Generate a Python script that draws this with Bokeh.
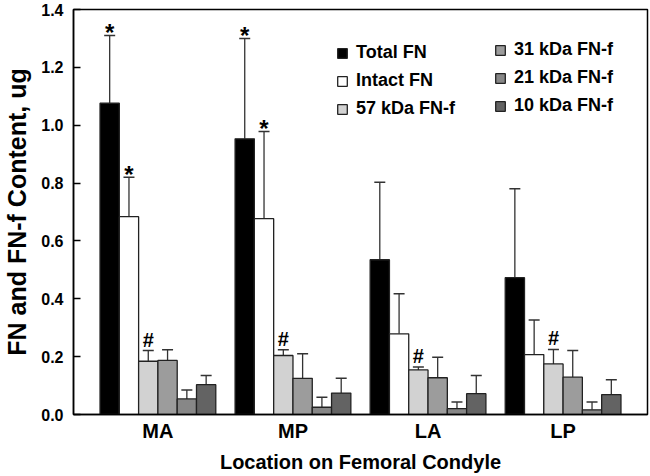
from bokeh.plotting import figure
from bokeh.models import (ColumnDataSource, Whisker, TeeHead, Legend, LegendItem,
                          FixedTicker, Range1d, Title)
from bokeh.core.properties import value
from bokeh.embed import file_html
from bokeh.resources import INLINE

# ---- data ----
locations = ["MA", "MP", "LA", "LP"]
series_names = ["Total FN", "Intact FN", "57 kDa FN-f", "31 kDa FN-f", "21 kDa FN-f", "10 kDa FN-f"]

total_fn = [1.076, 0.953, 0.535, 0.473]
total_sd = [0.234, 0.347, 0.268, 0.307]
intact_fn = [0.684, 0.677, 0.279, 0.207]
intact_sd = [0.136, 0.301, 0.138, 0.120]
k57 = [0.184, 0.204, 0.154, 0.175]
k57_sd = [0.037, 0.020, 0.010, 0.050]
k31 = [0.187, 0.125, 0.127, 0.129]
k31_sd = [0.037, 0.085, 0.071, 0.092]
k21 = [0.054, 0.025, 0.020, 0.016]
k21_sd = [0.031, 0.035, 0.023, 0.027]
k10 = [0.103, 0.074, 0.072, 0.069]
k10_sd = [0.032, 0.051, 0.063, 0.051]

total_marks = ["*", "*", "", ""]
intact_marks = ["*", "*", "", ""]
k57_marks = ["#", "#", "#", "#"]
no_marks = ["", "", "", ""]

y_ticks = [0.0, 0.2, 0.4, 0.6, 0.8, 1.0, 1.2, 1.4]
x_title = "Location on Femoral Condyle"
y_title = "FN and FN-f Content, ug"

means = [total_fn, intact_fn, k57, k31, k21, k10]
sds = [total_sd, intact_sd, k57_sd, k31_sd, k21_sd, k10_sd]
marks = [total_marks, intact_marks, k57_marks, no_marks, no_marks, no_marks]
colors = ["#000000", "#ffffff", "#d2d2d2", "#9c9c9c", "#878787", "#636363"]

FONT = "Liberation Sans"
BAR_W = 1.0 / 7.0

p = figure(width=650, height=476, output_backend="svg", toolbar_location=None,
           x_range=Range1d(-0.625, 3.625), y_range=Range1d(0, 1.4),
           min_border_left=69, min_border_right=3, min_border_top=9, min_border_bottom=62)
p.xgrid.visible = False
p.ygrid.visible = False
p.outline_line_color = "black"
p.outline_line_width = 1.5
p.background_fill_color = "white"

renderers = []
for i, (m, s, mk, c) in enumerate(zip(means, sds, marks, colors)):
    off = (i - 2.5) * BAR_W
    xs = [g + off for g in range(len(locations))]
    up = [a + b for a, b in zip(m, s)]
    src = ColumnDataSource(dict(x=xs, top=m, upper=up, mark=mk))
    r = p.vbar(x="x", top="top", width=BAR_W, source=src, fill_color=c,
               line_color="#222222", line_width=1.3)
    renderers.append(r)
    w = Whisker(source=src, base="x", lower="top", upper="upper",
                line_color="#333333", line_width=1.3,
                upper_head=TeeHead(size=11, line_color="#333333", line_width=1.5),
                lower_head=None)
    p.add_layout(w)
    if any(mk):
        is_star = mk[0] == "*"
        p.text(x="x", y="upper", text="mark", source=src,
               text_font=value(FONT), text_font_style="bold",
               text_font_size="24px" if is_star else "20px",
               text_align="center", text_baseline="alphabetic",
               y_offset=-3 if is_star else -11, text_color="black")

# axes
p.xaxis.ticker = FixedTicker(ticks=list(range(len(locations))))
p.xaxis.major_label_overrides = {i: n for i, n in enumerate(locations)}
p.xaxis.major_tick_in = 0
p.xaxis.major_tick_out = 0
p.xaxis.minor_tick_line_color = None
p.xaxis.axis_line_width = 1.5
p.xaxis.axis_label = None
p.xaxis.axis_label_standoff = 0
p.xaxis.major_label_standoff = 5
p.xaxis.major_label_text_font_size = "20px"

p.yaxis.ticker = FixedTicker(ticks=y_ticks)
p.yaxis.major_label_overrides = {t: f"{t:.1f}" for t in y_ticks}
p.yaxis.major_tick_in = 7
p.yaxis.major_tick_out = 0
p.yaxis.minor_tick_line_color = None
p.yaxis.major_tick_line_width = 1.5
p.yaxis.axis_line_width = 1.5
p.yaxis.axis_label = y_title
p.yaxis.major_label_standoff = 10
p.yaxis.axis_label_standoff = 7
p.yaxis.major_label_text_font_size = "16px"
p.yaxis.axis_label_text_font_size = "25px"

for ax in (p.xaxis, p.yaxis):
    ax.major_label_text_font = FONT
    ax.major_label_text_font_style = "bold"
    ax.major_label_text_color = "black"
    ax.axis_label_text_font = FONT
    ax.axis_label_text_font_style = "bold"
    ax.axis_label_text_color = "black"
    ax.axis_line_color = "black"
p.xaxis.major_tick_line_color = None
p.yaxis.major_tick_line_color = "black"

# x-axis title as a below-panel title
p.add_layout(Title(text=x_title, align="center", vertical_align="bottom",
                   text_font=FONT, text_font_style="bold",
                   text_font_size="20px", text_color="black", standoff=8, offset=0),
             "below")


def make_legend(idx, loc):
    items = [LegendItem(label=series_names[k], renderers=[renderers[k]]) for k in idx]
    lg = Legend(items=items, location=loc, padding=0, margin=0, spacing=7,
                glyph_width=12, glyph_height=12, label_standoff=8,
                label_text_font=FONT, label_text_font_style="bold",
                label_text_font_size="18px", label_text_color="black",
                border_line_alpha=0, background_fill_alpha=0)
    return lg


p.add_layout(make_legend([0, 1, 2], (263, 295)))
p.add_layout(make_legend([3, 4, 5], (421, 298)))

open("out.html", "w").write(file_html(p, INLINE))
